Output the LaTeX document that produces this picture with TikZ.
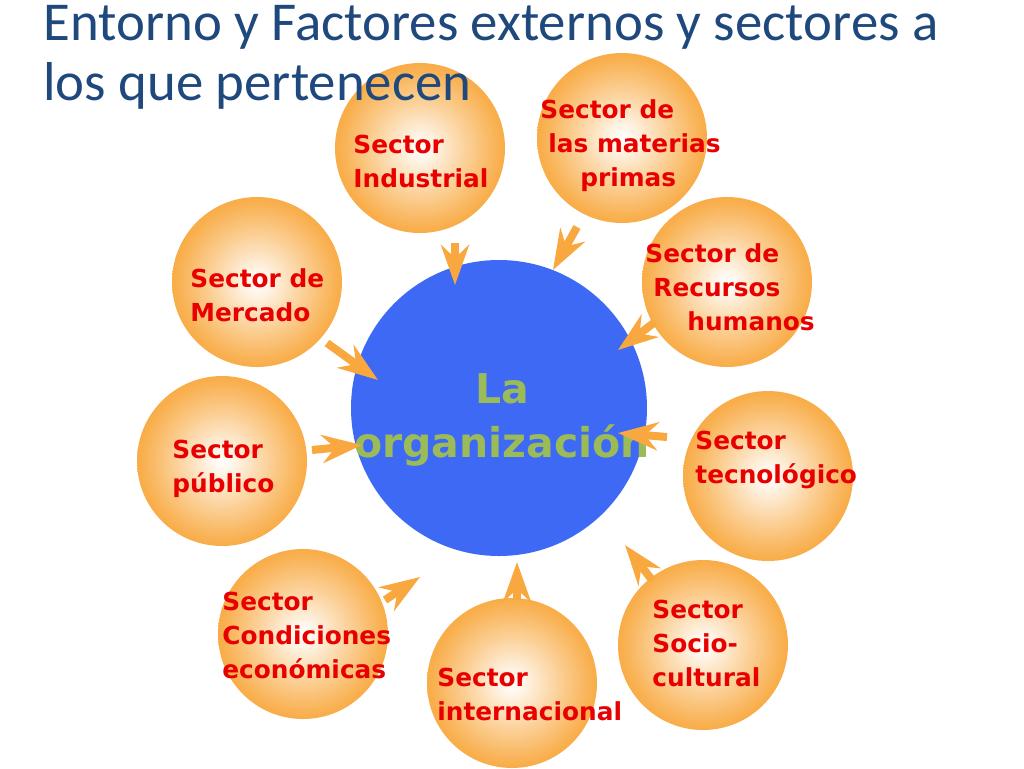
\documentclass[tikz,border=0pt]{standalone}
\usepackage{fontspec}
\setmainfont{DejaVu Sans}
\newfontfamily\titlefont{Carlito}
\usetikzlibrary{calc, positioning, arrows.meta}

\definecolor{naranja}{RGB}{248,168,62}
\definecolor{rojo}{RGB}{232,0,0}
\definecolor{azul}{RGB}{61,105,245}
\definecolor{verde}{RGB}{155,187,89}
\definecolor{titulo}{RGB}{31,73,125}
\pgfdeclareradialshading{bola}{\pgfpoint{0bp}{0bp}}{color(0bp)=(white); color(3bp)=(white!90!naranja); color(14bp)=(naranja!55!white); color(24bp)=(naranja!93!white); color(30bp)=(naranja); color(50bp)=(naranja)}

\tikzset{
    sector/.style={circle, minimum size=85pt, inner sep=0pt, shading=bola},
    txtsector/.style={anchor=base west, align=left, inner sep=0pt, text=rojo, font=\fontsize{12.4}{17}\selectfont\bfseries},
    flecha/.style={draw=naranja, line width=4pt, -{Stealth[length=20pt, width=14pt, inset=6.5pt]}}
}

\begin{document}
\begin{tikzpicture}[x=0.5pt, y=-0.5pt]
            \useasboundingbox (0,0) rectangle (1024,768);
            \node[sector] (ind) at (420,148) {};
            \node[sector] (mat) at (622,138) {};
            \node[sector] (mer) at (257,282) {};
            \node[sector] (rec) at (727,282) {};
            \node[sector] (pub) at (222,461) {};
            \node[sector] (tec) at (768,476) {};
            \node[sector] (con) at (303,634) {};
            \node[sector] (int) at (512,683) {};
            \node[sector] (soc) at (703,645) {};
            \node[circle, fill=azul, minimum size=148pt, inner sep=0pt] (org) at (499,408) {};
            \node[txtsector] (t-ind) at ($(ind)+(-67,39)$) {Sector\\Industrial};
            \node[txtsector] (t-mat) at ($(mat)+(-82,48)$) {Sector de\\\hspace*{4pt}las materias\\\hspace*{20pt}primas};
            \node[txtsector] (t-mer) at ($(mer)+(-67,39)$) {Sector de\\Mercado};
            \node[txtsector] (t-rec) at ($(rec)+(-82,48)$) {Sector de\\\hspace*{4pt}Recursos\\\hspace*{21pt}humanos};
            \node[txtsector] (t-pub) at ($(pub)+(-50,31)$) {Sector\\público};
            \node[txtsector] (t-tec) at ($(tec)+(-73,7)$) {Sector\\tecnológico};
            \node[txtsector] (t-con) at ($(con)+(-81,44)$) {Sector\\Condiciones\\económicas};
            \node[txtsector] (t-int) at ($(int)+(-75,37)$) {Sector\\internacional};
            \node[txtsector] (t-soc) at ($(soc)+(-51,41)$) {Sector\\Socio-\\cultural};
            \node[anchor=base, align=center, inner sep=0pt, text=verde, font=\fontsize{20.5}{27}\selectfont\bfseries] (t-org) at ($(org)+(3,49)$) {La\\organización};
            \draw[flecha] ($(ind)+(35,95)$) -- ($(org)+(-44,-123)$);
            \draw[flecha] ($(mat)+(-45,89)$) -- ($(org)+(54,-138)$);
            \draw[flecha] ($(mer)+(70,61)$) -- ($(org)+(-121,-28)$);
            \draw[flecha] ($(rec)+(-72,40)$) -- ($(org)+(119,-58)$);
            \draw[flecha] ($(pub)+(90,-11)$) -- ($(org)+(-137,37)$);
            \draw[flecha] ($(tec)+(-101,-39)$) -- ($(org)+(119,25)$);
            \draw[flecha] ($(con)+(82,-34)$) -- ($(org)+(-79,169)$);
            \draw[flecha] ($(int)+(5,-83)$) -- ($(org)+(18,154)$);
            \draw[flecha] ($(soc)+(-51,-65)$) -- ($(org)+(126,137)$);
            \node[anchor=base west, align=left, inner sep=0pt, text=titulo, font=\titlefont\fontsize{27.4}{30}\selectfont] (titulo) at (43,100) {Entorno y Factores externos y sectores a\\los que pertenecen};
        \end{tikzpicture}
\end{document}
